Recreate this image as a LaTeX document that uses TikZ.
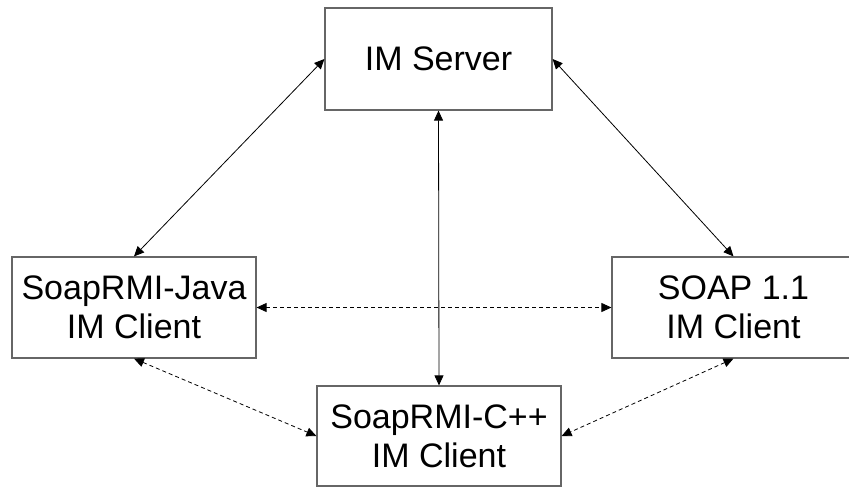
\documentclass[tikz,border=0pt]{standalone}
\usepackage{fontspec}
\setmainfont{Liberation Sans}
\usetikzlibrary{arrows.meta}
\tikzset{
    imbox/.style={draw=black!60, line width=1.2pt, align=center, inner sep=0pt,
        font=\fontsize{34pt}{39pt}\selectfont},
    link/.style={black, line width=0.8pt, {Triangle[length=10pt,width=9pt]}-{Triangle[length=10pt,width=9pt]}},
    peer/.style={link, dash pattern=on 4pt off 3pt}
}
\begin{document}
\begin{tikzpicture}
    \clip (0pt,0pt) rectangle (849pt,-487pt);
    \node[imbox, minimum width=227pt, minimum height=102pt] (server) at (438.5pt,-59pt) {IM Server};
    \node[imbox, minimum width=244pt, minimum height=101pt] (java) at (134pt,-307.5pt) {SoapRMI-Java\\IM Client};
    \node[imbox, minimum width=243pt, minimum height=101pt] (soap) at (733.5pt,-307.5pt) {SOAP 1.1\\IM Client};
    \node[imbox, minimum width=244pt, minimum height=100pt] (cpp) at (439pt,-436pt) {SoapRMI-C++\\IM Client};
    \draw[link] (server.west) -- (java.north);
    \draw[link] (server.east) -- (soap.north);
    \draw[link] (server.south) -- (cpp.north);
    \draw[peer] (java.east) -- (soap.west);
    \draw[peer] (java.south) -- (cpp.west);
    \draw[peer] (soap.south) -- (cpp.east);
\end{tikzpicture}
\end{document}
